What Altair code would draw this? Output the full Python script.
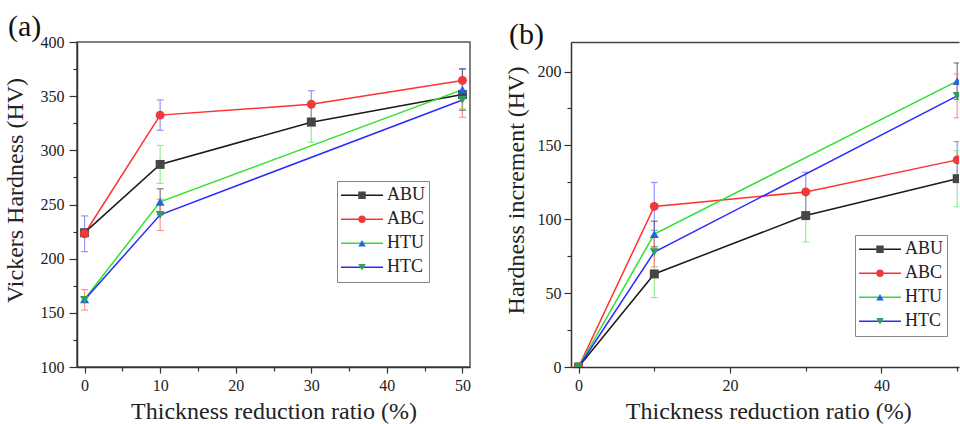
import altair as alt
import pandas as pd

FONT = "Liberation Serif"

series = ["ABU", "ABC", "HTU", "HTC"]
ratio = [0, 10, 30, 50]

# (a) Vickers hardness (HV)
hv_ABU = [224, 287, 326, 351.5]
hv_ABC = [223, 332.5, 342.5, 364.5]
hv_HTU = [162.5, 252.5, None, 356]
hv_HTC = [162, 240.5, None, 346.5]
hv_err_ABU = [3, 17.5, 18.5, 13]
hv_err_ABC = [16.5, 14, 12.5, 11]
hv_err_HTU = [2, 12, None, 19]
hv_err_HTC = [9.5, 14.5, None, 16]

# (b) Hardness increment (HV)
inc_ABU = [0, 63, 102.5, 127.5]
inc_ABC = [0, 108.7, 118.5, 140.2]
inc_HTU = [0, 90, None, 193.5]
inc_HTC = [0, 77.8, None, 183.5]
inc_err_ABU = [0, 16, 17.8, 19]
inc_err_ABC = [0, 16.2, 13.3, 12.4]
inc_err_HTU = [0, 8.7, None, 12.3]
inc_err_HTC = [0, 10, None, 14.8]

line_colors = ["#1a1a1a", "#ff3030", "#30e030", "#2a2aff"]
marker_colors = ["#454545", "#ee3a3a", "#1f66e0", "#2e9e58"]
error_colors = ["#7be87b", "#7c7cff", "#5a5a5a", "#ff7a7a"]
marker_shapes = ["square", "circle", "triangle-up", "triangle-down"]
# separate keys so that the three colour scales keep separate legends
marker_keys = ["m1 ABU", "m2 ABC", "m3 HTU", "m4 HTC"]
error_keys = ["e1 ABU", "e2 ABC", "e3 HTU", "e4 HTC"]


def make_df(vals, errs):
    rows = []
    for s, mk, ek, vl, el in zip(series, marker_keys, error_keys, vals, errs):
        for x, v, e in zip(ratio, vl, el):
            if v is None:
                continue
            rows.append(dict(series=s, marker=mk, ekey=ek, ratio=x, value=v,
                             err=e, lo=v - e, hi=v + e))
    return pd.DataFrame(rows)


df_a = make_df([hv_ABU, hv_ABC, hv_HTU, hv_HTC],
               [hv_err_ABU, hv_err_ABC, hv_err_HTU, hv_err_HTC])
df_b = make_df([inc_ABU, inc_ABC, inc_HTU, inc_HTC],
               [inc_err_ABU, inc_err_ABC, inc_err_HTU, inc_err_HTC])

AX = dict(labelFont=FONT, labelFontSize=16, labelColor="#222",
          titleFont=FONT, titleFontSize=24, titleFontWeight="normal",
          titleColor="#222", domainColor="#333", domainWidth=1.5,
          tickColor="#333", tickWidth=1.2, grid=False)
MINOR = dict(labels=False, domain=False, title=None, tickColor="#333",
             tickWidth=1.2, tickSize=4, grid=False)


def panel(df, tag, ytitle, xdom, ydom, xmaj, xmin, ymaj, ymin,
          width, height, lx, ly, ytick, ylabpad, ytitlepad, xtitlex,
          top_axis, view):
    clip = True
    xs = alt.Scale(domain=xdom, nice=False, zero=False)
    ys = alt.Scale(domain=ydom, nice=False, zero=False)
    base = alt.Chart(df)

    xaxis = alt.Axis(orient="bottom", values=xmaj, format="d",
                     title="Thickness reduction ratio (%)", tickSize=6,
                     labelPadding=4, titlePadding=6, titleX=xtitlex, **AX)
    yaxis = alt.Axis(orient="left", values=ymaj, format="d", title=ytitle,
                     tickSize=ytick, labelPadding=ylabpad,
                     titlePadding=ytitlepad, titleY=148, **AX)

    ecol = alt.Color("ekey:N", scale=alt.Scale(domain=error_keys, range=error_colors),
                     legend=None)

    errs = base.transform_filter("datum.err > 0").mark_rule(
        strokeWidth=1.2, opacity=0.8, clip=clip).encode(
        x=alt.X("ratio:Q", scale=xs, axis=xaxis),
        y=alt.Y("lo:Q", scale=ys, axis=yaxis),
        y2="hi:Q",
        color=ecol)

    caps = base.transform_filter("datum.err > 0").transform_fold(
        ["lo", "hi"], as_=["end", "yv"]).mark_tick(
        orient="horizontal", size=7, thickness=1.2, opacity=0.8, clip=clip).encode(
        x=alt.X("ratio:Q", scale=xs,
                axis=alt.Axis(orient="bottom", values=xmin, **MINOR)),
        y=alt.Y("yv:Q", scale=ys,
                axis=alt.Axis(orient="left", values=ymin, **MINOR)),
        color=ecol)

    line_legend = alt.Legend(
        orient="none", legendX=lx, legendY=ly, title=None,
        symbolType="stroke", symbolSize=1764, symbolStrokeWidth=1.5,
        labelFont=FONT, labelFontSize=18, labelColor="#222", labelOffset=3,
        padding=3, rowPadding=1, clipHeight=22.5,
        strokeColor="#888", fillColor="white")
    marker_legend = alt.Legend(
        orient="none", legendX=lx + 13, legendY=ly, title=None,
        symbolSize=55, symbolStrokeWidth=0, labelExpr="''",
        labelFont=FONT, labelFontSize=18, labelOffset=3,
        padding=3, rowPadding=1, clipHeight=22.5)

    if top_axis:
        lx_axis = alt.Axis(orient="top", labels=False, ticks=False, title=None,
                           domain=True, domainColor="#444", domainWidth=1.5,
                           grid=False)
    else:
        lx_axis = None

    lines = base.mark_line(strokeWidth=1.5, clip=clip).encode(
        x=alt.X("ratio:Q", scale=xs, axis=lx_axis),
        y=alt.Y("value:Q", scale=ys, axis=None),
        stroke=alt.Stroke("series:N", scale=alt.Scale(domain=series, range=line_colors),
                          legend=line_legend))

    pts = base.mark_point(filled=True, size=80, opacity=1, clip=clip).encode(
        x=alt.X("ratio:Q", scale=xs, axis=None),
        y=alt.Y("value:Q", scale=ys, axis=None),
        fill=alt.Fill("marker:N", scale=alt.Scale(domain=marker_keys, range=marker_colors),
                      legend=marker_legend),
        shape=alt.Shape("marker:N", scale=alt.Scale(domain=marker_keys, range=marker_shapes),
                        legend=marker_legend))

    return alt.layer(errs, caps, lines, pts).resolve_axis(
        x="independent", y="independent").properties(
        width=width, height=height, view=view,
        title=alt.TitleParams(tag, anchor="start", frame="bounds", font=FONT,
                              fontSize=30, fontWeight="normal", color="#111",
                              offset=-7.5, dx=5))


pa = panel(df_a, "(a)", "Vickers Hardness (HV)", [-1, 51], [100, 400],
           [0, 10, 20, 30, 40, 50], [5, 15, 25, 35, 45],
           list(range(100, 401, 50)), list(range(125, 400, 50)),
           393, 325, 260, 139, 8, 5, 13, 196.5, False,
           alt.ViewBackground(stroke="#555", strokeWidth=1.5))

pb = panel(df_b, "(b)", "Hardness increment (HV)", [-1, 50.24], [0, 220],
           [0, 20, 40], [10, 30, 50],
           list(range(0, 201, 50)), [25, 75, 125, 175],
           388, 325, 284, 193, 7, 3, 9, 197.3, True,
           alt.ViewBackground(stroke="transparent"))

chart = alt.hconcat(pa, pb, spacing=31).resolve_scale(
    color="independent", stroke="independent", fill="independent",
    shape="independent").resolve_legend(
    color="independent", stroke="independent", fill="independent",
    shape="independent").properties(
    padding={"left": 2, "top": 10, "right": 0, "bottom": 0},
    background="white").configure(font=FONT)

chart.save("out.html", embed_options={"renderer": "svg", "actions": False})
